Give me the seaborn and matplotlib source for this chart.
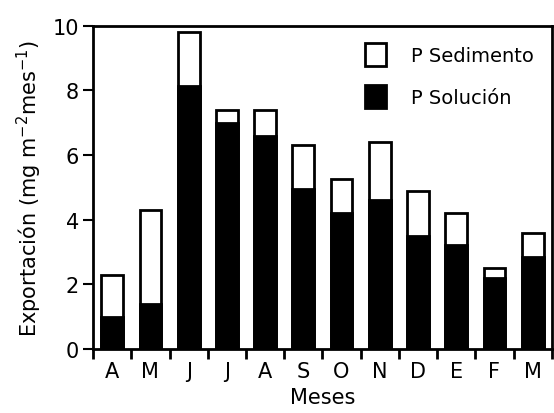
import matplotlib
matplotlib.use("Agg")
import matplotlib.pyplot as plt
import seaborn as sns
import pandas as pd
from matplotlib.patches import Patch

months = ["A", "M", "J", "J", "A", "S", "O", "N", "D", "E", "F", "M"]
total = [2.3, 4.3, 9.8, 7.4, 7.4, 6.3, 5.25, 6.4, 4.9, 4.2, 2.5, 3.6]
solucion = [1.0, 1.4, 8.15, 7.0, 6.6, 4.95, 4.2, 4.6, 3.5, 3.2, 2.2, 2.85]
yticks = [0, 2, 4, 6, 8, 10]

sns.set_style("ticks")
plt.rcParams['font.family'] = ['DejaVu Sans']
plt.rcParams['text.color'] = 'black'
plt.rcParams['axes.labelcolor'] = 'black'
plt.rcParams['xtick.color'] = 'black'
plt.rcParams['ytick.color'] = 'black'
plt.rcParams['axes.edgecolor'] = 'black'

df = pd.DataFrame({"pos": [str(i) for i in range(len(months))],
                   "total": total, "sol": solucion})

fig = plt.figure(figsize=(5.54, 4.14), dpi=100)
ax = fig.add_axes([0.168, 0.155, 0.828, 0.78])

sns.barplot(data=df, x="pos", y="total", color="white", edgecolor="black",
            linewidth=2, width=0.57, ax=ax, saturation=1)
sns.barplot(data=df, x="pos", y="sol", color="black", edgecolor="black",
            linewidth=2, width=0.57, ax=ax, saturation=1)

ax.set_xlim(-0.5, len(months) - 0.5)
ax.set_ylim(0, 10)
ax.set_yticks(yticks)
ax.set_yticklabels([str(v) for v in yticks], fontsize=15)

ax.set_xticks([i for i in range(len(months))])
ax.set_xticklabels(months, fontsize=15)
ax.tick_params(axis="x", which="major", length=0, pad=9)
ax.set_xticks([i - 0.5 for i in range(len(months) + 1)], minor=True)
ax.tick_params(axis="x", which="minor", length=7, width=2, direction="out")
ax.tick_params(axis="y", length=7, width=1.5, direction="out", pad=3)

for s in ax.spines.values():
    s.set_linewidth(2)
    s.set_visible(True)
    s.set_color("black")

ax.set_xlabel("Meses", fontsize=15, labelpad=4)
ax.set_ylabel("Exportación (mg m$^{-2}$mes$^{-1}$)", fontsize=15, labelpad=6)

handles = [Patch(facecolor="white", edgecolor="black", linewidth=2, label="P Sedimento"),
           Patch(facecolor="black", edgecolor="black", linewidth=2, label="P Solución")]
ax.legend(handles=handles, loc="upper right", frameon=False, fontsize=14,
          handlelength=1.1, handleheight=1.4, handletextpad=1.3,
          borderaxespad=0.5, labelspacing=1.0)

fig.savefig("out.png", dpi=100)
